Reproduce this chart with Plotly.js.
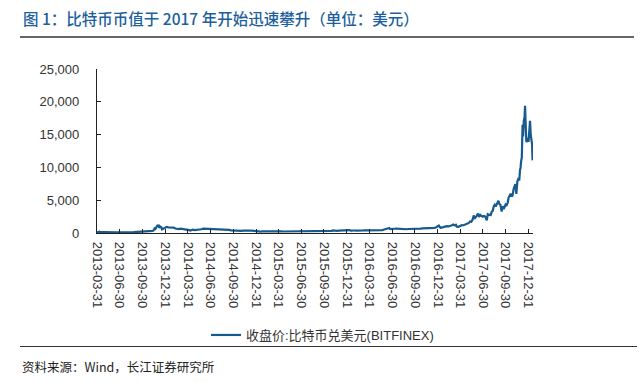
<!DOCTYPE html>
<html>
<head>
<meta charset="utf-8">
<script src="https://cdn.plot.ly/plotly-3.0.1.min.js"></script>
<style>html,body{margin:0;padding:0;background:#fff;}#chart{width:640px;height:382px;}</style>
</head>
<body>
<div id="chart"></div>
<script>
// Bitcoin close (USD, BITFINEX)
const dates = [
"2013-03-31","2013-04-03","2013-04-07","2013-04-10","2013-04-12","2013-04-16","2013-04-21","2013-04-28",
"2013-05-05","2013-05-12","2013-05-19","2013-05-26","2013-06-02","2013-06-09","2013-06-16","2013-06-23","2013-06-30",
"2013-07-07","2013-07-14","2013-07-21","2013-07-28","2013-08-04","2013-08-11","2013-08-18","2013-08-25",
"2013-09-01","2013-09-08","2013-09-15","2013-09-22","2013-09-29","2013-10-06","2013-10-13","2013-10-20","2013-10-27",
"2013-11-03","2013-11-10","2013-11-14","2013-11-18","2013-11-21","2013-11-25","2013-11-29","2013-12-04","2013-12-07",
"2013-12-10","2013-12-15","2013-12-18","2013-12-22","2013-12-26","2013-12-31",
"2014-01-05","2014-01-12","2014-01-19","2014-01-26","2014-02-02","2014-02-09","2014-02-16","2014-02-23",
"2014-03-02","2014-03-09","2014-03-16","2014-03-23","2014-03-30","2014-04-06","2014-04-10","2014-04-13","2014-04-20","2014-04-27",
"2014-05-04","2014-05-11","2014-05-18","2014-05-25","2014-06-01","2014-06-08","2014-06-15","2014-06-22","2014-06-29",
"2014-07-06","2014-07-13","2014-07-20","2014-07-27","2014-08-03","2014-08-10","2014-08-18","2014-08-24","2014-08-31",
"2014-09-07","2014-09-14","2014-09-21","2014-09-28","2014-10-05","2014-10-12","2014-10-19","2014-10-26",
"2014-11-02","2014-11-09","2014-11-16","2014-11-23","2014-11-30","2014-12-07","2014-12-14","2014-12-21","2014-12-28",
"2015-01-04","2015-01-11","2015-01-14","2015-01-18","2015-01-25","2015-02-01","2015-02-08","2015-02-15","2015-02-22",
"2015-03-01","2015-03-08","2015-03-15","2015-03-22","2015-03-29","2015-04-05","2015-04-12","2015-04-19","2015-04-26",
"2015-05-03","2015-05-10","2015-05-17","2015-05-24","2015-05-31","2015-06-07","2015-06-14","2015-06-21","2015-06-28",
"2015-07-05","2015-07-12","2015-07-19","2015-07-26","2015-08-02","2015-08-09","2015-08-16","2015-08-23","2015-08-30",
"2015-09-06","2015-09-13","2015-09-20","2015-09-27","2015-10-04","2015-10-11","2015-10-18","2015-10-25",
"2015-11-01","2015-11-04","2015-11-08","2015-11-11","2015-11-15","2015-11-22","2015-11-29","2015-12-06","2015-12-13","2015-12-20","2015-12-27",
"2016-01-03","2016-01-10","2016-01-15","2016-01-17","2016-01-24","2016-01-31","2016-02-07","2016-02-14","2016-02-21","2016-02-28",
"2016-03-06","2016-03-13","2016-03-20","2016-03-27","2016-04-03","2016-04-10","2016-04-17","2016-04-24",
"2016-05-01","2016-05-08","2016-05-15","2016-05-22","2016-05-29","2016-06-05","2016-06-12","2016-06-17","2016-06-19","2016-06-22","2016-06-26",
"2016-07-03","2016-07-10","2016-07-17","2016-07-24","2016-07-31","2016-08-02","2016-08-07","2016-08-14","2016-08-21","2016-08-28",
"2016-09-04","2016-09-11","2016-09-18","2016-09-25","2016-10-02","2016-10-09","2016-10-16","2016-10-23","2016-10-30",
"2016-11-06","2016-11-13","2016-11-20","2016-11-27","2016-12-04","2016-12-11","2016-12-18","2016-12-25","2016-12-31",
"2017-01-04","2017-01-08","2017-01-11","2017-01-15","2017-01-22","2017-01-29","2017-02-05","2017-02-12","2017-02-19","2017-02-26",
"2017-03-03","2017-03-10","2017-03-14","2017-03-18","2017-03-24","2017-03-31","2017-04-07","2017-04-14","2017-04-21","2017-04-28",
"2017-05-05","2017-05-10","2017-05-15","2017-05-20","2017-05-25","2017-05-27","2017-05-31","2017-06-04","2017-06-08","2017-06-11",
"2017-06-15","2017-06-20","2017-06-25","2017-06-30","2017-07-04","2017-07-09","2017-07-12","2017-07-16","2017-07-20","2017-07-24","2017-07-28",
"2017-08-01","2017-08-05","2017-08-09","2017-08-13","2017-08-17","2017-08-21","2017-08-25","2017-08-29",
"2017-09-01","2017-09-05","2017-09-09","2017-09-14","2017-09-18","2017-09-22","2017-09-26","2017-09-30",
"2017-10-04","2017-10-08","2017-10-12","2017-10-16","2017-10-20","2017-10-24","2017-10-28",
"2017-11-01","2017-11-05","2017-11-08","2017-11-12","2017-11-16","2017-11-20","2017-11-24","2017-11-27","2017-11-29",
"2017-12-01","2017-12-04","2017-12-07","2017-12-09","2017-12-12","2017-12-15","2017-12-17","2017-12-19","2017-12-22","2017-12-25","2017-12-28","2017-12-31",
"2018-01-03","2018-01-06","2018-01-09","2018-01-12","2018-01-14","2018-01-16","2018-01-17"
];
const closes = [
93,135,162,200,120,68,120,135,
115,117,122,133,122,100,100,107,97,
70,98,91,98,105,106,113,122,
140,125,127,125,133,125,140,177,195,
210,325,420,700,630,810,1130,1150,760,
990,870,540,630,750,735,
930,860,830,880,820,680,640,590,
670,630,630,565,470,450,360,420,500,430,
440,440,445,570,660,650,590,595,600,
630,625,620,590,585,590,480,510,480,
480,475,400,375,320,390,385,355,
325,365,385,370,380,375,350,320,315,
265,265,175,210,250,225,225,235,235,
260,275,285,265,245,255,235,225,225,
240,240,237,240,230,225,233,245,250,
260,310,275,290,280,265,260,228,230,
240,230,231,233,238,247,262,285,
325,400,370,310,320,325,370,395,435,440,425,
430,448,375,385,405,378,375,405,438,432,
400,412,410,415,420,420,428,462,
450,460,455,442,530,575,705,760,765,600,630,
700,650,670,660,620,540,590,570,580,575,
610,605,610,605,610,620,640,660,700,
710,705,730,735,765,775,790,890,965,
1130,900,780,820,920,920,1030,1000,1060,1180,
1280,1150,1240,970,940,1070,1190,1180,1260,1340,
1540,1750,1720,2050,2700,2150,2300,2520,2800,2950,
2430,2750,2590,2480,2600,2520,2340,1930,2850,2750,2800,
2740,3250,3380,4050,4300,4050,4350,4600,
4900,4400,4300,3250,4100,3650,3900,4350,
4250,4600,5400,5700,6000,5550,5750,
6700,7400,7450,5950,7850,8250,8200,9700,9900,
10900,11500,16500,14700,17100,17700,19400,17600,13900,14000,14500,13900,
15000,17100,14900,13800,13600,11300,11100
];
const tickDates = ["2013-03-31","2013-06-30","2013-09-30","2013-12-31","2014-03-31","2014-06-30","2014-09-30","2014-12-31",
"2015-03-31","2015-06-30","2015-09-30","2015-12-31","2016-03-31","2016-06-30","2016-09-30","2016-12-31",
"2017-03-31","2017-06-30","2017-09-30","2017-12-31"];
const yTicks = [0,5000,10000,15000,20000,25000];
const seriesName = "收盘价:比特币兑美元(BITFINEX)";
const titleText = "图 1：比特币币值于 2017 年开始迅速攀升（单位：美元）";
const sourceText = "资料来源：Wind，长江证券研究所";

// pixel helpers for plot area: x 97..533, y 69..233
const L=97, R=533, T=69, B=233;
const px = x => (x-L)/(R-L);
const py = y => (B-y)/(B-T);

const FONT = "Liberation Sans, Arial, Noto Sans CJK SC, sans-serif";
const lineColor = "#175a8d";

const trace = {
  x: dates, y: closes, type: "scatter", mode: "lines", name: seriesName,
  line: {color: lineColor, width: 2.2}, hoverinfo: "skip"
};

const layout = {
  width: 640, height: 382,
  margin: {l: L, r: 640-R, t: T, b: 382-B, pad: 0},
  paper_bgcolor: "#fff", plot_bgcolor: "#fff",
  font: {family: FONT, size: 13, color: "#333"},
  showlegend: true,
  legend: {orientation: "h", x: px(206), xanchor: "left", y: py(320), yanchor: "top",
           font: {family: FONT, size: 13, color: "#333"}, bgcolor: "rgba(0,0,0,0)"},
  xaxis: {
    type: "date", range: ["2013-03-31", "2018-01-18"],
    tickmode: "array", tickvals: tickDates, ticktext: tickDates, tickangle: 90,
    ticks: "inside", ticklen: 4, tickwidth: 1, tickcolor: "#222",
    showline: true, linecolor: "#222", linewidth: 1.2, showgrid: false, zeroline: false,
    tickfont: {family: FONT, size: 13, color: "#333"}, ticklabelstandoff: 5
  },
  yaxis: {
    range: [0, 25000], tickmode: "array", tickvals: yTicks, tickformat: ",d",
    ticks: "inside", ticklen: 4, tickwidth: 1, tickcolor: "#222",
    showline: true, linecolor: "#222", linewidth: 1.2, showgrid: false, zeroline: false,
    tickfont: {family: FONT, size: 13, color: "#333"}, ticklabelstandoff: 14
  },
  shapes: [
    {type: "line", xref: "paper", yref: "paper", x0: px(20), x1: px(634), y0: py(37), y1: py(37),
     line: {color: "#333", width: 1.5}},
    {type: "line", xref: "paper", yref: "paper", x0: px(20), x1: px(637), y0: py(346.5), y1: py(346.5),
     line: {color: "#333", width: 1.2}}
  ],
  annotations: [
    {text: titleText, xref: "paper", yref: "paper", x: px(21), y: py(18), xanchor: "left", yanchor: "middle",
     showarrow: false, font: {family: "Noto Sans CJK SC, Liberation Sans, sans-serif", size: 15.5, weight: 500, color: "#1d5f9c"}},
    {text: sourceText, xref: "paper", yref: "paper", x: px(20), y: py(366), xanchor: "left", yanchor: "middle",
     showarrow: false, font: {family: "Noto Sans CJK SC, Liberation Sans, sans-serif", size: 12.5, color: "#222"}}
  ]
};

Plotly.newPlot("chart", [trace], layout, {staticPlot: true, displayModeBar: false});
</script>
</body>
</html>
